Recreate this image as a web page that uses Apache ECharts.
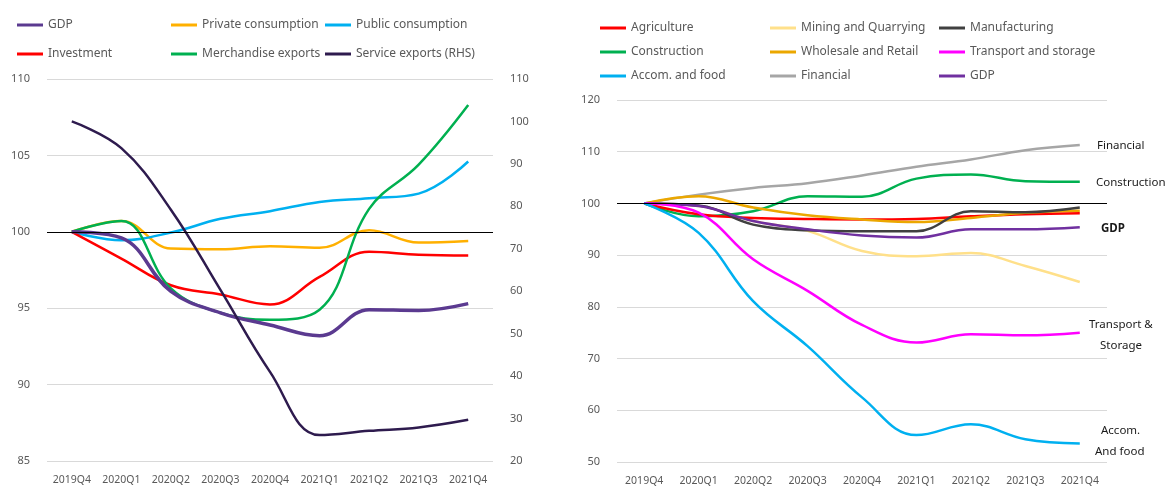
<!DOCTYPE html>
<html><head><meta charset="utf-8">
<script src="https://cdn.jsdelivr.net/npm/echarts@6/dist/echarts.min.js"></script>
<style>html,body{margin:0;padding:0;background:#fff}#c{width:1165px;height:489px}</style>
</head><body><div id="c"></div>
<script>
const categories = ['2019Q4','2020Q1','2020Q2','2020Q3','2020Q4','2021Q1','2021Q2','2021Q3','2021Q4'];
const leftTicks = [85, 90, 95, 100, 105, 110];
const rightTicks = [20, 30, 40, 50, 60, 70, 80, 90, 100, 110];
const sectorTicks = [50, 60, 70, 80, 90, 100, 110, 120];

// Left chart
const gdpL = [100, 99.6, 96.1, 94.7, 93.9, 93.2, 94.9, 94.85, 95.3];
const privateCons = [100, 100.7, 98.9, 98.85, 99.05, 98.95, 100.1, 99.3, 99.4];
const publicCons = [100, 99.45, 99.95, 100.85, 101.35, 101.95, 102.2, 102.5, 104.6];
const investment = [100, 98.25, 96.5, 95.9, 95.25, 97.05, 98.7, 98.5, 98.45];
const merchExports = [100, 100.7, 96.3, 94.7, 94.25, 94.9, 101.5, 104.4, 108.3];
const serviceExports = [100, 93.7, 79.2, 60.3, 41.0, 26.1, 27.1, 27.9, 29.7];

// Right chart
const agriculture = [100, 97.9, 97.2, 97.0, 96.9, 97.0, 97.5, 97.9, 98.1];
const mining = [100, 99.5, 96.6, 94.7, 90.8, 89.8, 90.4, 87.9, 84.8];
const manufacturing = [100, 99.6, 95.9, 94.8, 94.6, 94.6, 98.5, 98.3, 99.2];
const construction = [100, 97.5, 98.5, 101.4, 101.3, 104.8, 105.6, 104.3, 104.2];
const wholesale = [100, 101.4, 99.2, 97.7, 96.9, 96.4, 97.2, 98.2, 98.6];
const transport = [100, 98.2, 89.2, 83.1, 76.5, 73.1, 74.7, 74.5, 75.0];
const accom = [100, 94.3, 81.1, 72.4, 62.5, 55.2, 57.3, 54.4, 53.6];
const financial = [100, 101.7, 103.0, 103.9, 105.4, 107.1, 108.5, 110.3, 111.3];
const gdpR = [100, 99.5, 96.6, 95.0, 93.8, 93.4, 95.0, 95.0, 95.4];

const FONT = 'Noto Sans';
const LBL = '#595959';

const chart = echarts.init(document.getElementById('c'), null, {renderer: 'canvas'});

function leg(name, left, top) {
  return {
    data: [name], left: left, top: top, icon: 'rect', itemWidth: 26, itemHeight: 3,
    padding: 0, selectedMode: false,
    textStyle: {color: LBL, fontSize: 12, fontFamily: FONT}
  };
}
function ser(name, data, color, xi, yi, width) {
  return {
    name: name, type: 'line', data: data, xAxisIndex: xi, yAxisIndex: yi,
    smooth: 0.4, symbol: 'none', lineStyle: {color: color, width: width || 2.5},
    itemStyle: {color: color}, emphasis: {disabled: true}, z: 3
  };
}
const xBase = {
  type: 'category', data: categories, boundaryGap: true,
  axisLine: {show: false}, axisTick: {show: false},
  axisLabel: {color: LBL, fontSize: 10.5, fontFamily: FONT, margin: 14, interval: 0, hideOverlap: false}
};
const yBase = {
  type: 'value', axisLine: {show: false}, axisTick: {show: false},
  splitLine: {lineStyle: {color: '#d9d9d9', width: 1}},
  axisLabel: {color: LBL, fontSize: 11, fontFamily: FONT, margin: 17}
};
const ref = (yi, xi) => ({
  type: 'line', data: [], xAxisIndex: xi, yAxisIndex: yi, silent: true,
  markLine: {silent: true, symbol: 'none', label: {show: false},
    lineStyle: {color: '#000', width: 1, type: 'solid'}, data: [{yAxis: 100}]}, z: 2
});

const annoStyle = {fill: '#1a1a1a', fontSize: 11.5, fontFamily: FONT};
function txt(t, x, y, bold) {
  return {type: 'text', left: x, top: y - 5, style: Object.assign({text: t}, annoStyle, bold ? {fontWeight: 'bold'} : {})};
}

chart.setOption({
  animation: false,
  backgroundColor: '#fff',
  legend: [
    leg('GDP', 17, 19), leg('Private consumption', 171, 19), leg('Public consumption', 325, 19),
    leg('Investment', 17, 48), leg('Merchandise exports', 171, 48), leg('Service exports (RHS)', 325, 48),
    leg('Agriculture', 600, 22), leg('Mining and Quarrying', 770, 22), leg('Manufacturing', 939, 22),
    leg('Construction', 600, 46), leg('Wholesale and Retail', 770, 46), leg('Transport and storage', 939, 46),
    leg('Accom. and food', 600, 70), leg('Financial', 770, 70), leg('GDP ', 939, 70)
  ],
  grid: [
    {left: 47, right: 672, top: 79, bottom: 28},
    {left: 617, right: 58, top: 100, bottom: 27}
  ],
  xAxis: [
    Object.assign({}, xBase, {gridIndex: 0}),
    Object.assign({}, xBase, {gridIndex: 1})
  ],
  yAxis: [
    Object.assign({}, yBase, {gridIndex: 0, min: leftTicks[0], max: leftTicks[leftTicks.length - 1], interval: 5}),
    Object.assign({}, yBase, {gridIndex: 0, position: 'right', min: rightTicks[0], max: rightTicks[rightTicks.length - 1], interval: 10, splitLine: {show: false}}),
    Object.assign({}, yBase, {gridIndex: 1, min: sectorTicks[0], max: sectorTicks[sectorTicks.length - 1], interval: 10})
  ],
  graphic: [
    txt('Financial', 1097, 145), txt('Construction', 1096, 182), txt('GDP', 1101, 228, true),
    txt('Transport &', 1089, 324), txt('Storage', 1100, 345),
    txt('Accom.', 1101, 430), txt('And food', 1095, 451)
  ],
  series: [
    ref(0, 0), ref(2, 1),
    ser('Private consumption', privateCons, '#ffb000', 0, 0),
    ser('Public consumption', publicCons, '#00b0f0', 0, 0),
    ser('Investment', investment, '#ff0000', 0, 0),
    ser('Merchandise exports', merchExports, '#00b050', 0, 0),
    ser('GDP', gdpL, '#5b3a90', 0, 0, 3.5),
    ser('Service exports (RHS)', serviceExports, '#2e1b4e', 0, 1),
    ser('Financial', financial, '#a6a6a6', 1, 2),
    ser('Mining and Quarrying', mining, '#ffe08a', 1, 2),
    ser('Construction', construction, '#00b050', 1, 2),
    ser('Agriculture', agriculture, '#ff0000', 1, 2),
    ser('Wholesale and Retail', wholesale, '#eba700', 1, 2),
    ser('Manufacturing', manufacturing, '#404040', 1, 2),
    ser('GDP ', gdpR, '#7030a0', 1, 2),
    ser('Transport and storage', transport, '#ff00ff', 1, 2),
    ser('Accom. and food', accom, '#00b0f0', 1, 2)
  ]
});
</script>
</body></html>
